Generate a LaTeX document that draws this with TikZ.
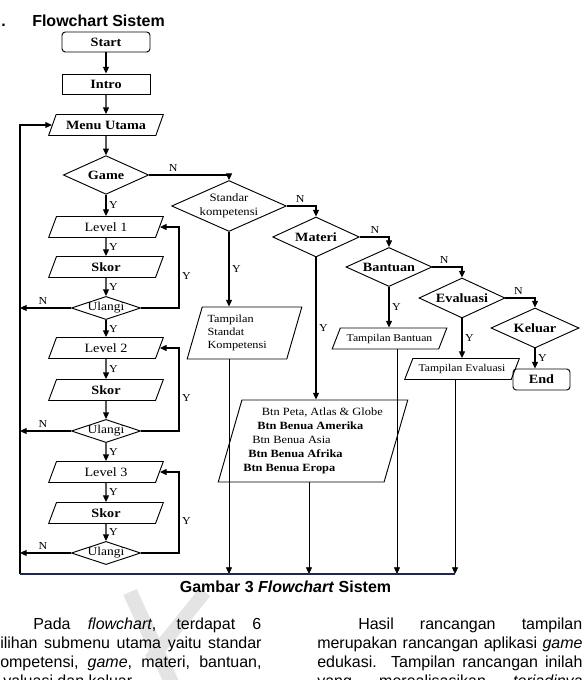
\documentclass[tikz,border=0pt]{standalone}
\usepackage{fontspec}
\setmainfont{Liberation Sans}
\newfontfamily\diagfont[FakeStretch=1.12]{Liberation Serif}
\usetikzlibrary{shapes.geometric,arrows.meta,positioning}

\definecolor{rulenavy}{RGB}{30,40,75}
\definecolor{markgray}{RGB}{228,228,228}

\tikzset{
  base/.style={draw, line width=0.7pt, inner sep=1pt, font=\diagfont\fontsize{9.5}{11}\selectfont},
  boldtxt/.style={font=\diagfont\bfseries\fontsize{9.5}{11}\selectfont},
  smalltxt/.style={font=\diagfont\fontsize{7.8}{9.8}\selectfont},
  startstop/.style={base, boldtxt, rectangle, rounded corners=2.5pt, minimum width=66pt, minimum height=15pt},
  process/.style={base, boldtxt, rectangle, minimum width=66pt, minimum height=15pt},
  io/.style={base, trapezium, trapezium stretches body=true, trapezium left angle=56, trapezium right angle=124, minimum width=86pt, minimum height=15.75pt},
  decision/.style={base, boldtxt, diamond, aspect=2.2, inner sep=0pt},
  ulangi/.style={base, diamond, aspect=3, inner sep=0pt, minimum width=45pt, minimum height=15pt, font=\diagfont\fontsize{9}{10}\selectfont},
  lbl/.style={font=\diagfont\fontsize{8}{9}\selectfont, inner sep=2pt},
  arr/.style={-{Triangle[length=5pt,width=4.5pt]}, line width=0.8pt},
  body/.style={anchor=base west, inner sep=0pt, font=\fontsize{12}{14}\selectfont},
}

\begin{document}
\begin{tikzpicture}[x=0.75pt,y=-0.75pt]
\useasboundingbox (0,0) rectangle (583,680);
\clip (0,0) rectangle (583,680);

\draw[markgray, line width=11pt] (130,592) -- (175,690);
\draw[markgray, line width=10pt] (150,660) -- (205,592);

\node[anchor=base west, inner sep=0pt, font=\bfseries\fontsize{12}{14}\selectfont] (num) at (1,27) {.};
\node[anchor=base west, inner sep=0pt, font=\bfseries\fontsize{12}{14}\selectfont] (title) at (32,27) {Flowchart Sistem};

\node[startstop] (start) at (106,42) {Start};
\node[process] (intro) at (106,84) {Intro};
\node[io, boldtxt] (menu) at (106,125) {Menu Utama};
\node[decision, minimum width=64pt, minimum height=29pt] (game) at (106,175) {Game};

\node[io] (lv1) at (106,227) {Level 1};
\node[io, boldtxt] (sk1) at (106,267) {Skor};
\node[ulangi] (ul1) at (106,308) {Ulangi};
\node[io] (lv2) at (106,348) {Level 2};
\node[io, boldtxt] (sk2) at (106,390) {Skor};
\node[ulangi] (ul2) at (106,431) {Ulangi};
\node[io] (lv3) at (106,472) {Level 3};
\node[io, boldtxt] (sk3) at (106,513) {Skor};
\node[ulangi] (ul3) at (106,553) {Ulangi};

\node[decision, minimum width=86pt, minimum height=30pt, font=\diagfont\fontsize{8.5}{10.5}\selectfont, align=center] (std) at (229,206) {Standar\\kompetensi};
\node[io, trapezium left angle=69, trapezium right angle=111, minimum width=86pt, minimum height=39pt, font=\diagfont\fontsize{8.2}{10}\selectfont, align=left] (ts) at (244.5,333) {Tampilan\\Standat\\Kompetensi\hspace*{11pt}};
\node[decision, minimum width=65pt, minimum height=30pt] (materi) at (316,237) {Materi};
\node[io, trapezium left angle=71, trapezium right angle=109, minimum width=114pt, minimum height=61.5pt, align=left, font=\diagfont\fontsize{8.3}{10.5}\selectfont] (btn) at (313,441)
  {\hspace*{14pt}Btn Peta, Atlas \& Globe\\\hspace*{10.5pt}\textbf{Btn Benua Amerika}\\\hspace*{6.75pt}Btn Benua Asia\\\hspace*{3.75pt}\textbf{Btn Benua Afrika}\\\textbf{Btn Benua Eropa}};
\node[decision, minimum width=64.5pt, minimum height=29.25pt] (bantuan) at (389,267) {Bantuan};
\node[io, smalltxt] (tb) at (389.5,338.5) {Tampilan Bantuan};
\node[decision, minimum width=64.5pt, minimum height=30pt] (evaluasi) at (462,298) {Evaluasi};
\node[io, smalltxt] (te) at (462,369) {Tampilan Evaluasi};
\node[decision, minimum width=66pt, minimum height=30pt] (keluar) at (535,328) {Keluar};
\node[startstop, minimum width=42.75pt, minimum height=15.75pt] (stop) at (541.5,379.5) {End};

\coordinate (bl) at (20,574);
\coordinate (rx) at (179,574);
\coordinate (b1) at (229,574);
\coordinate (b2) at (309,574);
\coordinate (b3) at (397,574);
\coordinate (b4) at (455,574);

\draw[arr] (start) -- (intro);
\draw[arr] (intro) -- (menu);
\draw[arr] (menu) -- (game);
\draw[arr] (game) -- node[lbl, right] {Y} (lv1);
\draw[arr] (lv1) -- node[lbl, right] {Y} (sk1);
\draw[arr] (sk1) -- node[lbl, right] {Y} (ul1);
\draw[arr] (ul1) -- node[lbl, right] {Y} (lv2);
\draw[arr] (lv2) -- node[lbl, right] {Y} (sk2);
\draw[arr] (sk2) -- (ul2);
\draw[arr] (ul2) -- node[lbl, right] {Y} (lv3);
\draw[arr] (lv3) -- node[lbl, right] {Y} (sk3);
\draw[arr] (sk3) -- node[lbl, right] {Y} (ul3);

\draw[arr] (ul1.east) -- (ul1.east -| rx) -- node[lbl, right, pos=0.4] {Y} (lv1.east -| rx) -- (lv1.east);
\draw[arr] (ul2.east) -- (ul2.east -| rx) -- node[lbl, right, pos=0.4] {Y} (lv2.east -| rx) -- (lv2.east);
\draw[arr] (ul3.east) -- (ul3.east -| rx) -- node[lbl, right, pos=0.4] {Y} (lv3.east -| rx) -- (lv3.east);
\draw[arr] (ul1.west) -- node[lbl, above, pos=0.55] {N} (ul1.west -| bl);
\draw[arr] (ul2.west) -- node[lbl, above, pos=0.55] {N} (ul2.west -| bl);
\draw[arr] (ul3.west) -- node[lbl, above, pos=0.55] {N} (ul3.west -| bl);
\draw[arr] (bl) -- (bl |- menu.west) -- (menu.west);

\draw[arr] (game.east) -| node[lbl, above, pos=0.15] {N} (std.north);
\draw[arr] (std.east) -| node[lbl, above, pos=0.23] {N} (materi.north);
\draw[arr] (materi.east) -| node[lbl, above, pos=0.26] {N} (bantuan.north);
\draw[arr] (bantuan.east) -| node[lbl, above, pos=0.2] {N} (evaluasi.north);
\draw[arr] (evaluasi.east) -| node[lbl, above, pos=0.22] {N} (keluar.north);

\draw[arr] (std.south) -- node[lbl, right] {Y} (std.south |- ts.north);
\draw[arr] (materi.south) -- node[lbl, right] {Y} (materi.south |- btn.north);
\draw[arr] (bantuan.south) -- node[lbl, right] {Y} (bantuan.south |- tb.north);
\draw[arr] (evaluasi.south) -- node[lbl, right] {Y} (evaluasi.south |- te.north);
\draw[arr] (keluar.south) -- node[lbl, right] {Y} (keluar.south |- stop.north);

\draw[arr, line width=0.6pt] (b1 |- ts.south) -- (b1);
\draw[arr, line width=0.6pt] (b2 |- btn.south) -- (b2);
\draw[arr, line width=0.6pt] (b3 |- tb.south) -- (b3);
\draw[arr, line width=0.6pt] (b4 |- te.south) -- (b4);
\draw[rulenavy, line width=0.9pt] (bl) -- (b4);

\node[anchor=base, inner sep=0pt, font=\bfseries\fontsize{12}{14}\selectfont] (caption) at (285.5,592) {Gambar 3 \textit{Flowchart} Sistem};

\node[body] (p1) at (33,629) {\makebox[171pt][s]{Pada \textit{flowchart}, terdapat 6}};
\node[body] (p2) at (0,648) {\makebox[196pt][s]{ilihan submenu utama yaitu standar}};
\node[body] (p3) at (0,667) {\makebox[196pt][s]{ompetensi, \textit{game}, materi, bantuan,}};
\node[body] (p4) at (3,686) {valuasi dan keluar.};
\node[body] (q1) at (358,629) {\makebox[168pt][s]{Hasil rancangan tampilan}};
\node[body] (q2) at (317,648) {\makebox[199pt][s]{merupakan rancangan aplikasi \textit{game}}};
\node[body] (q3) at (317,667) {\makebox[199pt][s]{edukasi. Tampilan rancangan inilah}};
\node[body] (q4) at (317,686) {\makebox[199pt][s]{yang merealisasikan \textit{terjadinya}}};
\end{tikzpicture}
\end{document}
